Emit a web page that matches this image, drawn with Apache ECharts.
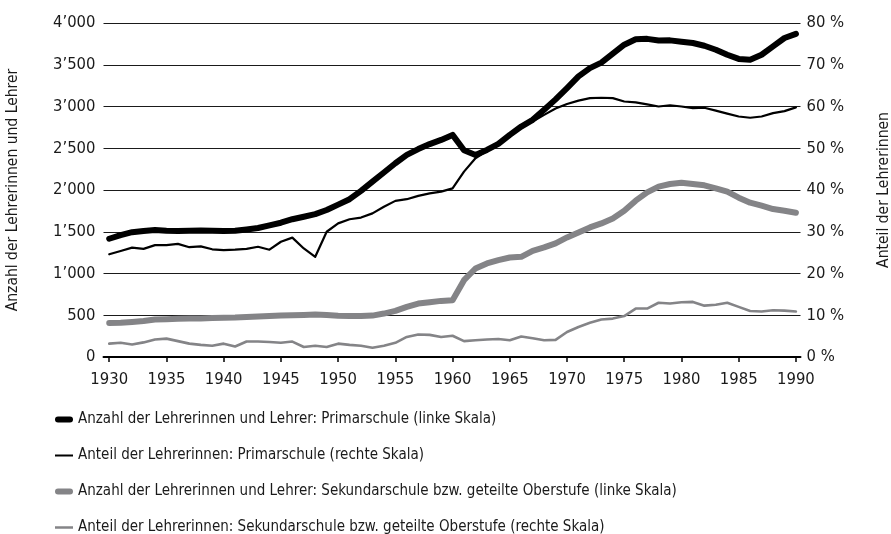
<!DOCTYPE html>
<html>
<head>
<meta charset="utf-8">
<script src="https://cdn.jsdelivr.net/npm/echarts@6/dist/echarts.min.js"></script>
<style>
  html, body { margin: 0; padding: 0; background: #fff; }
  #chart { width: 891px; height: 534px; }
</style>
</head>
<body>
<div id="chart"></div>
<script>
// Jahre 1930–1990
const years = [
  1930, 1931, 1932, 1933, 1934, 1935, 1936, 1937, 1938, 1939,
  1940, 1941, 1942, 1943, 1944, 1945, 1946, 1947, 1948, 1949,
  1950, 1951, 1952, 1953, 1954, 1955, 1956, 1957, 1958, 1959,
  1960, 1961, 1962, 1963, 1964, 1965, 1966, 1967, 1968, 1969,
  1970, 1971, 1972, 1973, 1974, 1975, 1976, 1977, 1978, 1979,
  1980, 1981, 1982, 1983, 1984, 1985, 1986, 1987, 1988, 1989,
  1990
];
const yearTicks = [1930, 1935, 1940, 1945, 1950, 1955, 1960, 1965, 1970, 1975, 1980, 1985, 1990];

// Anzahl Lehrpersonen Primarschule (linke Skala)
const primarAnzahl = [
  1416, 1460, 1495, 1510, 1520, 1512, 1510, 1512, 1515, 1512,
  1510, 1512, 1528, 1545, 1577, 1608, 1650, 1680, 1712, 1760,
  1825, 1890, 1990, 2100, 2210, 2320, 2420, 2490, 2550, 2600,
  2660, 2475, 2420, 2480, 2552, 2660, 2760, 2840, 2960, 3085,
  3220, 3360, 3460, 3525, 3632, 3740, 3805, 3810, 3790, 3792,
  3775, 3760, 3728, 3680, 3620, 3570, 3560, 3620, 3720, 3820,
  3870
];
// Anteil Lehrerinnen Primarschule in % (rechte Skala)
const primarAnteil = [
  24.6, 25.4, 26.2, 25.9, 26.8, 26.8, 27.1, 26.3, 26.5, 25.8,
  25.6, 25.7, 25.9, 26.4, 25.7, 27.6, 28.6, 26.0, 24.0, 30.0,
  32.0, 33.0, 33.4, 34.4, 36.0, 37.4, 37.8, 38.6, 39.2, 39.6,
  40.4, 44.4, 47.6, 49.4, 51.0, 53.2, 55.4, 56.4, 58.0, 59.5,
  60.6, 61.4, 62.0, 62.1, 62.0, 61.2, 61.0, 60.5, 60.0, 60.3,
  60.0, 59.6, 59.7, 59.0, 58.3, 57.6, 57.3, 57.6, 58.4, 58.9,
  59.8
];
// Anzahl Lehrpersonen Sekundarschule (linke Skala)
const sekAnzahl = [
  408, 410, 420, 432, 448, 452, 458, 460, 462, 466,
  470, 472, 478, 484, 490, 496, 500, 504, 508, 502,
  494, 490, 490, 496, 520, 552, 600, 640, 656, 672,
  680, 920, 1060, 1120, 1160, 1192, 1200, 1272, 1312, 1360,
  1432, 1492, 1552, 1600, 1660, 1752, 1872, 1972, 2040, 2072,
  2088, 2072, 2056, 2020, 1980, 1908, 1848, 1812, 1772, 1752,
  1728
];
// Anteil Lehrerinnen Sekundarschule in % (rechte Skala)
const sekAnteil = [
  3.2, 3.4, 3.0, 3.5, 4.2, 4.4, 3.8, 3.2, 2.9, 2.7,
  3.2, 2.5, 3.7, 3.7, 3.6, 3.4, 3.7, 2.4, 2.7, 2.4,
  3.2, 2.9, 2.7, 2.2, 2.7, 3.4, 4.8, 5.4, 5.3, 4.8,
  5.1, 3.8, 4.0, 4.2, 4.3, 4.0, 4.9, 4.5, 4.0, 4.1,
  6.0, 7.2, 8.2, 9.0, 9.2, 9.8, 11.6, 11.6, 13.0, 12.8,
  13.1, 13.2, 12.3, 12.5, 13.0, 12.0, 11.0, 10.9, 11.2, 11.1,
  10.9
];

const names = [
  "Anzahl der Lehrerinnen und Lehrer: Primarschule (linke Skala)",
  "Anteil der Lehrerinnen: Primarschule (rechte Skala)",
  "Anzahl der Lehrerinnen und Lehrer: Sekundarschule bzw. geteilte Oberstufe (linke Skala)",
  "Anteil der Lehrerinnen: Sekundarschule bzw. geteilte Oberstufe (rechte Skala)"
];

const FONT = "'DejaVu Sans Condensed', 'Liberation Sans Narrow', sans-serif";
const TEXT = "#1a1a1a";
const BLACK = "#000000";
const GREY = "#848487";

// abgerundeter Balken fuer die dicken Linien in der Legende
const THICK_ICON = "path://M3,0 L15,0 A3,3 0 0 1 15,6 L3,6 A3,3 0 0 1 3,0 Z";

function pairs(values) {
  return years.map((y, i) => [y, values[i]]);
}

function lineSeries(name, values, color, width, yAxisIndex, z) {
  return {
    name: name,
    type: "line",
    yAxisIndex: yAxisIndex,
    data: pairs(values),
    symbol: "none",
    z: z,
    lineStyle: { color: color, width: width, cap: "round", join: "round" },
    itemStyle: { color: color },
    emphasis: { disabled: true }
  };
}

// eine Legende pro Zeile, damit die Zeilen genau sitzen
function legendRow(name, top, icon, h) {
  return {
    left: 55,
    top: top,
    itemWidth: 18,
    itemHeight: h,
    itemGap: 0,
    padding: 0,
    icon: icon,
    selectedMode: false,
    textStyle: { fontFamily: FONT, fontSize: 15, color: TEXT },
    data: [name]
  };
}

const chart = echarts.init(document.getElementById("chart"));

const option = {
  animation: false,
  backgroundColor: "#ffffff",
  textStyle: { fontFamily: FONT, color: TEXT },
  grid: { left: 103.5, right: 90.5, top: 23, bottom: 177, outerBoundsMode: "none", containLabel: false },
  legend: [
    legendRow(names[0], 412, THICK_ICON, 6),
    legendRow(names[1], 448, "rect", 2),
    legendRow(names[2], 484, THICK_ICON, 6),
    legendRow(names[3], 520, "rect", 2.5)
  ],
  xAxis: {
    type: "value",
    min: 1929.5,
    max: 1990.4,
    axisLine: { show: true, onZero: false, lineStyle: { color: "#000", width: 2 } },
    axisTick: { show: true, length: 5, lineStyle: { color: "#000", width: 1.5 }, customValues: yearTicks },
    axisLabel: {
      customValues: yearTicks,
      fontFamily: FONT,
      fontSize: 16.5,
      color: TEXT,
      margin: 14,
      formatter: (v) => String(v)
    },
    splitLine: { show: false }
  },
  yAxis: [
    {
      type: "value",
      min: 0,
      max: 4000,
      interval: 500,
      name: "Anzahl der Lehrerinnen und Lehrer",
      nameLocation: "middle",
      nameRotate: 90,
      nameGap: 83,
      nameTextStyle: { fontFamily: FONT, fontSize: 15.5, color: TEXT },
      axisLine: { show: false },
      axisTick: { show: false },
      axisLabel: {
        fontFamily: FONT,
        fontSize: 16.5,
        color: TEXT,
        margin: 8,
        formatter: (v) => String(v).replace(/\B(?=(\d{3})+(?!\d))/g, "\u2019")
      },
      splitLine: { show: true, lineStyle: { color: "#1a1a1a", width: 1 } }
    },
    {
      type: "value",
      min: 0,
      max: 80,
      interval: 10,
      name: "Anteil der Lehrerinnen",
      nameLocation: "middle",
      nameRotate: 90,
      nameGap: 75,
      nameTextStyle: { fontFamily: FONT, fontSize: 15.5, color: TEXT },
      axisLine: { show: false },
      axisTick: { show: false },
      axisLabel: {
        fontFamily: FONT,
        fontSize: 16.5,
        color: TEXT,
        margin: 6,
        formatter: (v) => v + " %"
      },
      splitLine: { show: false }
    }
  ],
  series: [
    lineSeries(names[0], primarAnzahl, BLACK, 6, 0, 5),
    lineSeries(names[1], primarAnteil, BLACK, 2.2, 1, 4),
    lineSeries(names[2], sekAnzahl, GREY, 6, 0, 3),
    lineSeries(names[3], sekAnteil, GREY, 2.6, 1, 2)
  ]
};

chart.setOption(option);
</script>
</body>
</html>
